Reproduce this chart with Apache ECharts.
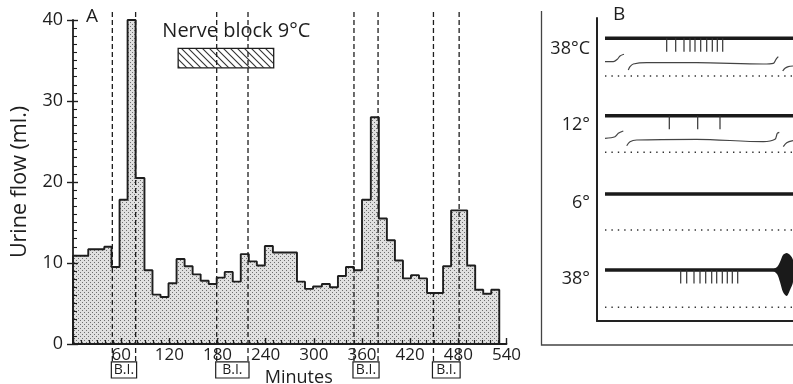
<!DOCTYPE html>
<html><head><meta charset="utf-8">
<script src="https://cdn.jsdelivr.net/npm/echarts@6/dist/echarts.min.js"></script>
<style>html,body{margin:0;padding:0;background:#fff}#c{width:793px;height:384px}</style>
</head><body><div id="c"></div>
<script>
// ---------- Panel A data ----------
// collection-period edges (minutes) and urine flow (ml) in each period
const binEdges = [0,19,39,48,58,68,78,89,99,109,119,129,139,149,159,169,179,189,199,209,219,229,239,249,259,269,279,289,299,310,320,330,340,350,360,371,381,391,401,411,421,431,441,451,461,471,481,491,501,511,521,531];
const urineFlow = [10.9,11.7,12.0,9.5,17.8,40.0,20.5,9.1,6.1,5.8,7.5,10.5,9.6,8.6,7.8,7.4,8.2,8.9,7.7,11.1,10.2,9.7,12.1,11.3,11.3,11.3,7.7,6.8,7.1,7.4,7.0,8.4,9.5,9.1,17.8,28.0,15.5,12.8,10.3,8.1,8.5,8.1,6.3,6.3,9.6,16.5,16.5,9.7,6.7,6.2,6.7];
const yTicks = [0,10,20,30,40];
const xTicks = [60,120,180,240,300,360,420,480,540];
// B.I. periods (dashed lines, minutes)
const biStarts = [49,179,350,449];
const biEnds   = [78,218,380,481];
const biLabel  = 'B.I.';
// nerve block period (minutes)
const nerveBlockStart = 131;
const nerveBlockEnd = 250;
const nerveBlockLabel = 'Nerve block 9°C';

// ---------- Panel B data ----------
const rowLabels = ['38°C','12°','6°','38°'];
const traceLevels = [20.3, 97.7, 176, 252];
const dottedLevels = [58, 134.3, 212, 289.3];
const spikes38a = [69.7,78.7,87,93,98,103.7,109.7,115.3,120.3,125.7];
const spikes12 = [72.3,100.7,123];
const spikes6 = [];
const spikes38b = [83.7,89.7,97,103,108.7,114.7,119.7,125.3,130.3,135.3,140.7];
const burstX = [175,180,183,186,189.7,193,196];
const burstUp = [0,3,8,15,17,15,10];
const burstDown = [0,4,12,22,26,20,12];
const wave38A = [[8,43.7],[16.3,43.7],[20.3,41.3],[23,38],[27,36.3]];
const wave38B = [[31.3,52],[33,48.7],[36.3,46],[49.7,44.7],[99.7,44.7],[166.3,46],[176.3,45.3],[179,41.3],[181.3,38.7]];
const wave38C = [[185.7,53],[188,50.3],[191.3,48.7],[196,48]];
const wave12A = [[8,120.3],[18,118.7],[21.3,115.3],[26.3,113]];
const wave12B = [[29.7,127.7],[33,123.7],[39.7,122],[99.7,121.3],[166.3,123.7],[178,121.3],[180.3,115.3],[182.3,114.3]];
const wave12C = [[186.3,128.7],[189.7,124.7],[196,122.7]];

const FONT = 'Open Sans';
const INK = '#1e1e1e';

function makePattern(kind){
  const c = document.createElement('canvas');
  if(kind==='dots'){
    c.width=4;c.height=4;const g=c.getContext('2d');
    g.fillStyle='#e0e0e0';g.fillRect(0,0,4,4);
    g.fillStyle='#6e6e6e';g.fillRect(0,0,1,1);g.fillRect(2,2,1,1);
  } else {
    const s=7;c.width=s;c.height=s;const g=c.getContext('2d');
    g.fillStyle='#fff';g.fillRect(0,0,s,s);
    g.strokeStyle='#333';g.lineWidth=1.1;
    g.beginPath();g.moveTo(-1,-1);g.lineTo(s+1,s+1);
    g.moveTo(-1,s-1);g.lineTo(1,s+1);g.moveTo(s-1,-1);g.lineTo(s+1,1);g.stroke();
  }
  return c;
}
const dotPat = makePattern('dots');
const hatchPat = makePattern('hatch');

// step outline data for histogram
const histData = [[binEdges[0],0]];
urineFlow.forEach((v,i)=>histData.push([binEdges[i],v]));
histData.push([binEdges[binEdges.length-1],urineFlow[urineFlow.length-1]]);
histData.push([binEdges[binEdges.length-1],0]);

const chart = echarts.init(document.getElementById('c'));
const allSpikes = [spikes38a, spikes12, spikes6, spikes38b];

const option = {
  animation:false,
  backgroundColor:'#fff',
  textStyle:{fontFamily:FONT},
  grid:[
    {left:73, top:20, width:433.5, height:324, containLabel:false, outerBoundsMode:'none'},
    {left:597, top:18, width:196, height:303, containLabel:false, outerBoundsMode:'none'}
  ],
  xAxis:[
    {gridIndex:0, type:'value', min:0, max:540, interval:60, z:6,
     axisLine:{show:true, lineStyle:{color:INK, width:1.8}},
     axisTick:{show:true, inside:true, length:6, lineStyle:{color:INK, width:1.4}},
     minorTick:{show:true, splitNumber:6, length:4, lineStyle:{color:INK, width:1.2}},
     splitLine:{show:false},
     axisLabel:{margin:3, fontSize:17, color:INK, fontFamily:FONT,
       formatter:v=> xTicks.indexOf(v)>=0 ? String(v) : ''},
     name:'Minutes', nameLocation:'middle', nameGap:19,
     nameTextStyle:{fontSize:18, color:INK, fontFamily:FONT, padding:[0,0,0,18]}},
    {gridIndex:1, type:'value', min:0, max:196,
     axisLine:{show:true, onZero:false, lineStyle:{color:'#222', width:2}},
     axisTick:{show:false}, axisLabel:{show:false}, splitLine:{show:false}}
  ],
  yAxis:[
    {gridIndex:0, type:'value', min:0, max:40, interval:10, position:'left', z:6,
     axisLine:{show:true, lineStyle:{color:INK, width:1.8}},
     axisTick:{show:true, inside:true, length:5, lineStyle:{color:INK, width:1.4}},
     minorTick:{show:true, splitNumber:10, length:4, lineStyle:{color:INK, width:1.1}},
     splitLine:{show:false},
     axisLabel:{margin:10, fontSize:18, color:INK, fontFamily:FONT,
       formatter:v=> yTicks.indexOf(v)>=0 ? String(v) : ''},
     name:'Urine flow (ml.)', nameLocation:'middle', nameRotate:90, nameGap:42,
     nameTextStyle:{fontSize:21.5, color:INK, fontFamily:FONT}},
    {gridIndex:0, type:'value', min:0, max:40, interval:10, position:'left', offset:0, z:6,
     axisLine:{show:false}, axisTick:{show:true, inside:false, length:6, lineStyle:{color:INK, width:1.4}},
     axisLabel:{show:false}, splitLine:{show:false}},
    {gridIndex:1, type:'value', min:0, max:303, inverse:true,
     axisLine:{show:true, lineStyle:{color:'#222', width:2}},
     axisTick:{show:false}, axisLabel:{show:false}, splitLine:{show:false}}
  ],
  graphic:[
    {type:'text', left:86, top:7, style:{text:'A', fontSize:19, fill:INK, fontFamily:FONT}},
    {type:'text', left:613, top:5, style:{text:'B', fontSize:19, fill:INK, fontFamily:FONT}},
    {type:'polyline', shape:{points:[[541.5,11],[541.5,345],[793,345]]}, style:{stroke:'#444', lineWidth:1.3, fill:null}}
  ],
  series:[
    // histogram
    {type:'line', xAxisIndex:0, yAxisIndex:0, step:'end', symbol:'none', data:histData,
     lineStyle:{color:INK, width:1.9}, areaStyle:{color:{image:dotPat, repeat:'repeat'}, opacity:1}, z:2},
    // nerve block hatch box + label
    {type:'custom', xAxisIndex:0, yAxisIndex:0, clip:false, z:3,
     data:[[nerveBlockStart, nerveBlockEnd]],
     renderItem:(params, api)=>{
       const p0 = api.coord([api.value(0), 36.5]);
       const p1 = api.coord([api.value(1), 34.1]);
       const t = api.coord([(api.value(0)+api.value(1))/2 + 13, 38.6]);
       return {type:'group', children:[
         {type:'rect', shape:{x:p0[0], y:p0[1], width:p1[0]-p0[0], height:p1[1]-p0[1]},
          style:{fill:{image:hatchPat, repeat:'repeat'}, stroke:INK, lineWidth:1.3}},
         {type:'text', style:{text:nerveBlockLabel, x:t[0], y:t[1], align:'center', verticalAlign:'middle',
          fontSize:20, fontFamily:FONT, fill:INK}}
       ]};
     }},
    // B.I. dashed lines and boxes
    {type:'custom', xAxisIndex:0, yAxisIndex:0, clip:false, z:4,
     data:biStarts.map((s,i)=>[s, biEnds[i]]),
     renderItem:(params, api)=>{
       const a = api.coord([api.value(0), 41.0]);
       const b = api.coord([api.value(0), -2.2]);
       const c = api.coord([api.value(1), 41.0]);
       const d = api.coord([api.value(1), -2.2]);
       const bb = api.coord([api.value(0), -4.2])[1];
       const ls = {stroke:INK, lineWidth:1.3, lineDash:[5,3]};
       return {type:'group', children:[
         {type:'line', shape:{x1:a[0],y1:a[1],x2:b[0],y2:b[1]}, style:ls},
         {type:'line', shape:{x1:c[0],y1:c[1],x2:d[0],y2:d[1]}, style:ls},
         {type:'rect', shape:{x:b[0]-1, y:b[1], width:d[0]-b[0]+2, height:bb-b[1]},
          style:{fill:'#fff', stroke:INK, lineWidth:1.2}},
         {type:'text', style:{text:biLabel, x:(b[0]+d[0])/2, y:(b[1]+bb)/2+0.5, align:'center', verticalAlign:'middle',
          fontSize:14, fontFamily:FONT, fill:INK}}
       ]};
     }},
    // Panel B: thick traces with spikes and row labels
    {type:'custom', xAxisIndex:1, yAxisIndex:2, clip:false, z:3,
     data:traceLevels.map((lv,i)=>[i, lv]),
     renderItem:(params, api)=>{
       const i = api.value(0), lv = api.value(1);
       const s = api.coord([8, lv]), e = api.coord([196, lv]);
       const ch = [{type:'line', shape:{x1:s[0],y1:s[1],x2:e[0],y2:e[1]}, style:{stroke:'#1a1a1a', lineWidth:3.4}}];
       allSpikes[i].forEach(x=>{
         const p = api.coord([x, lv]), q = api.coord([x, lv+13.5]);
         ch.push({type:'line', shape:{x1:p[0],y1:p[1],x2:q[0],y2:q[1]}, style:{stroke:'#333', lineWidth:1.2}});
       });
       const tp = api.coord([-7, lv+(i===0?11:9)]);
       ch.push({type:'text', style:{text:rowLabels[i], x:tp[0], y:tp[1], align:'right', verticalAlign:'middle',
         fontSize:18, fontFamily:FONT, fill:INK}});
       return {type:'group', children:ch};
     }},
    // burst on last trace
    {type:'custom', xAxisIndex:1, yAxisIndex:2, clip:false, z:3,
     data:[[traceLevels[3]]],
     renderItem:(params, api)=>{
       const lv = api.value(0);
       const pts = [];
       burstX.forEach((x,k)=>pts.push(api.coord([x, lv-burstUp[k]])));
       for(let k=burstX.length-1;k>=0;k--) pts.push(api.coord([burstX[k], lv+burstDown[k]]));
       return {type:'polygon', shape:{points:pts, smooth:0.3}, style:{fill:'#1a1a1a'}};
     }},
    // dotted baselines
    ...dottedLevels.map(lv=>({type:'line', xAxisIndex:1, yAxisIndex:2, symbol:'none', silent:true,
      data:[[8,lv],[196,lv]], lineStyle:{color:'#333', width:1.4, type:[1.4,5]}})),
    // thin waveforms
    ...[wave38A,wave38B,wave38C,wave12A,wave12B,wave12C].map(w=>({type:'line', xAxisIndex:1, yAxisIndex:2,
      symbol:'none', smooth:0.3, data:w, lineStyle:{color:'#444', width:1.2}}))
  ]
};
chart.setOption(option);
</script></body></html>
